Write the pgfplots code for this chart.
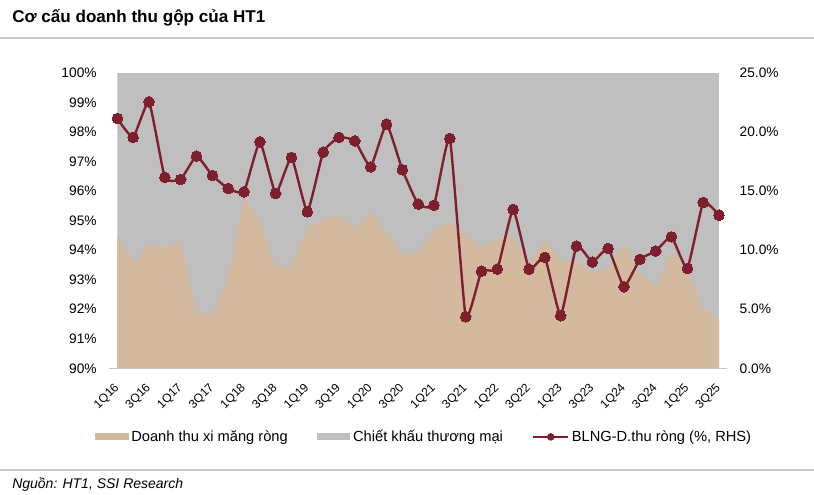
\documentclass[border=0pt]{standalone}
\usepackage{fontspec}
\setmainfont{Liberation Sans}
\usepackage{pgfplots}
\pgfplotsset{compat=1.18}

\definecolor{tan}{HTML}{D3BA9E}
\definecolor{chgray}{HTML}{BFBFBF}
\definecolor{blng}{HTML}{7F1F2D}
\definecolor{rule}{HTML}{C8C8C8}

\pgfplotsset{
  swatch/.style={legend image code/.code={\fill[##1] (0pt,-2.6pt) rectangle (25pt,2.6pt);}},
  lineleg/.style={legend image code/.code={
    \draw[blng, line width=1.6pt] (0pt,0pt) -- (26pt,0pt);
    \fill[blng] (13pt,0pt) circle (2.6pt);}},
  base/.style={
    scale only axis, width=451.25pt, height=221.7pt,
    at={(88pt,95pt)}, anchor=south west,
    xmin=0, xmax=38, enlargelimits=false,
    major tick length=0pt,
    /pgf/number format/assume math mode=true,
    tick label style={font=\fontsize{10.3}{12}\selectfont},
  }
}

\begin{document}
\begin{tikzpicture}
\useasboundingbox (0,0) rectangle (610.5pt,371.25pt);

% title and rules
\node[anchor=west, inner sep=0pt, font=\fontsize{12.8}{15}\selectfont\bfseries] at (9pt,357.75pt) {Cơ cấu doanh thu gộp của HT1};
\draw[rule, line width=0.8pt] (0,342.75pt) -- (610.5pt,342.75pt);
\draw[rule, line width=0.8pt] (0,18.75pt) -- (610.5pt,18.75pt);
\node[anchor=west, inner sep=0pt, font=\fontsize{10.5}{12}\selectfont\itshape] at (9pt,7.5pt) {Nguồn: HT1, SSI Research};

\begin{axis}[base,
  ymin=90, ymax=100, ytick={90,91,...,100},
  yticklabel={\pgfmathprintnumber{\tick}\%},
  yticklabel shift=12pt,
  axis x line*=bottom, axis y line*=left,
  y axis line style={draw=none},
  x axis line style={draw=rule, line width=1pt, shorten <=-6pt, shorten >=-6pt},
  xtick={0,2,...,38},
  xticklabels={1Q16,3Q16,1Q17,3Q17,1Q18,3Q18,1Q19,3Q19,1Q20,3Q20,1Q21,3Q21,1Q22,3Q22,1Q23,3Q23,1Q24,3Q24,1Q25,3Q25},
  xticklabel style={font=\fontsize{9}{10}\selectfont, xshift=-3pt, yshift=-5.6pt, rotate=45, anchor=north east},
  legend columns=3,
  legend style={at={(0.5106,-0.232)}, anchor=center, draw=none, fill=none,
    font=\fontsize{11}{13}\selectfont,
    /tikz/every even column/.append style={column sep=20pt}},
  legend cell align=left,
]
\addplot[fill=chgray, draw=none, forget plot] coordinates {(0,100) (38,100)} \closedcycle;
\addplot[fill=tan, draw=none, swatch]
  coordinates {
  (0,94.45) (1,93.59) (2,94.17) (3,94.08) (4,94.26) (5,91.88) (6,91.84) (7,93.10)
  (8,95.79) (9,94.94) (10,93.46) (11,93.44) (12,94.76) (13,95.02) (14,95.21)
  (15,94.71) (16,95.33) (17,94.57) (18,93.82) (19,93.98) (20,94.66) (21,94.96)
  (22,94.51) (23,94.08) (24,94.42) (25,94.45) (26,93.55) (27,94.37) (28,93.61)
  (29,93.63) (30,93.25) (31,93.38) (32,94.23) (33,93.22) (34,92.73) (35,93.97)
  (36,93.27) (37,92.03) (38,91.64)
  } \closedcycle;
\addlegendentry{Doanh thu xi măng ròng}
\addlegendimage{fill=chgray, draw=none, swatch}
\addlegendentry{Chiết khấu thương mại}
\addlegendimage{lineleg}
\addlegendentry{BLNG-D.thu ròng (\%, RHS)}
\end{axis}

\begin{axis}[base,
  ymin=0, ymax=25, ytick={0,5,...,25},
  axis x line=none, axis y line*=right,
  y axis line style={draw=none},
  yticklabel={\pgfmathprintnumber[fixed,fixed zerofill,precision=1]{\tick}\%},
  yticklabel style={anchor=west},
  yticklabel shift=12pt,
]
\addplot[blng, line width=1.8pt, smooth, tension=0.25, mark=*, mark size=4pt,
  mark options={fill=blng, draw=blng, line width=0pt}]
  coordinates {
  (0,21.13) (1,19.53) (2,22.54) (3,16.15) (4,15.98) (5,17.95) (6,16.31) (7,15.21)
  (8,14.93) (9,19.16) (10,14.79) (11,17.84) (12,13.24) (13,18.28) (14,19.53)
  (15,19.24) (16,17.04) (17,20.65) (18,16.80) (19,13.89) (20,13.80) (21,19.44)
  (22,4.36) (23,8.22) (24,8.39) (25,13.44) (26,8.39) (27,9.38) (28,4.45)
  (29,10.34) (30,8.99) (31,10.14) (32,6.90) (33,9.21) (34,9.92) (35,11.12)
  (36,8.45) (37,14.03) (38,12.96)
  };
\end{axis}
\end{tikzpicture}
\end{document}
